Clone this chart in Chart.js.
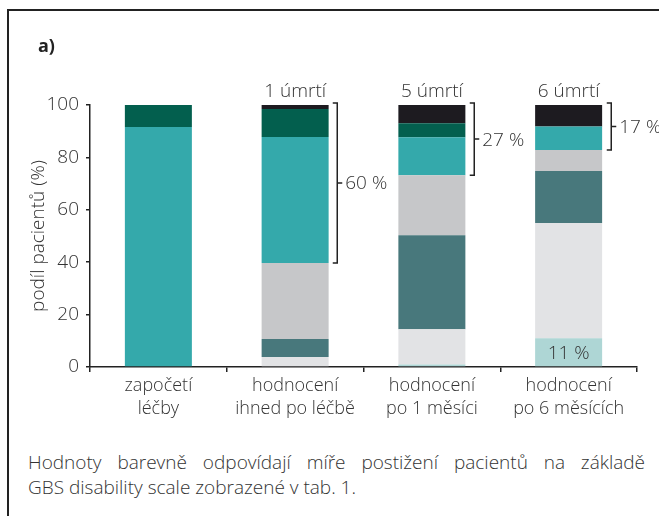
<!DOCTYPE html>
<html><head><meta charset="utf-8">
<script src="https://cdn.jsdelivr.net/npm/chart.js@4"></script>
<style>
html,body{margin:0;padding:0;background:#fff;}
#wrap{position:relative;width:659px;height:516px;overflow:hidden;}
#frame{position:absolute;left:7px;top:9px;width:700px;height:600px;border-top:2px solid #222;border-left:2px solid #222;}
#lbl{position:absolute;left:38px;top:33px;font:bold 18px "Open Sans";color:#222;}
canvas{position:absolute;left:0;top:0;}
#cap{position:absolute;left:28px;top:450px;width:617px;font:300 19px "Open Sans";color:#333;line-height:25px;}
.l1{text-align:justify;text-align-last:justify;white-space:nowrap;}
</style></head>
<body>
<div id="wrap">
<div id="frame"></div>
<canvas id="c" width="659" height="440"></canvas>
<div id="lbl">a)</div>
<div id="cap"><div class="l1">Hodnoty barevně odpovídají míře postižení pacientů na základě</div><div>GBS disability scale zobrazené v tab. 1.</div></div>
</div>
<script>
const categories = [['započetí','léčby'],['hodnocení','ihned po léčbě'],['hodnocení','po 1 měsíci'],['hodnocení','po 6 měsících']];
const grade0 = [0, 0, 1.0, 11.0];
const grade1 = [0, 3.8, 13.4, 44.0];
const grade2 = [0, 6.9, 35.9, 19.8];
const grade3 = [0, 29.0, 22.9, 8.0];
const grade4 = [91.6, 48.1, 14.5, 9.0];
const grade5 = [8.4, 10.7, 5.3, 0];
const grade6 = [0, 1.5, 7.0, 8.2];
const deaths = [null, 1, 5, 6];
const yTicks = [0, 20, 40, 60, 80, 100];

const series = [grade0, grade1, grade2, grade3, grade4, grade5, grade6];
const colors = ['#aed6d5', '#e2e3e5', '#48787c', '#c6c7c9', '#34a9ab', '#035f4e', '#1d1b20'];
const FONT = '"Open Sans", sans-serif';
const TXT = '#333';

const annPlugin = {
  id: 'ann',
  afterDraw(chart) {
    const ctx = chart.ctx, y = chart.scales.y;
    ctx.save();
    ctx.fillStyle = TXT;
    ctx.strokeStyle = '#222';
    ctx.lineWidth = 1.5;
    categories.forEach((c, i) => {
      const bar = chart.getDatasetMeta(0).data[i];
      const cx = bar.x, half = bar.width / 2;
      if (deaths[i] != null) {
        const yTop = y.getPixelForValue(100);
        ctx.font = '300 19px ' + FONT;
        ctx.textAlign = 'center'; ctx.textBaseline = 'alphabetic';
        ctx.fillText(deaths[i] + ' úmrtí', cx, yTop - 8);
        const low = grade0[i] + grade1[i] + grade2[i] + grade3[i];
        const yBot = y.getPixelForValue(low);
        const bx = Math.round(cx + half + 8.5) + 0.25;
        const t = yTop - 2, b = yBot;
        ctx.beginPath();
        ctx.moveTo(bx - 4.5, t); ctx.lineTo(bx, t); ctx.lineTo(bx, b); ctx.lineTo(bx - 4.5, b);
        const ym = (t + b) / 2;
        ctx.moveTo(bx, ym); ctx.lineTo(bx + 5, ym);
        ctx.stroke();
        ctx.textAlign = 'left'; ctx.textBaseline = 'middle';
        ctx.fillText(Math.round(grade4[i] + grade5[i] + grade6[i]) + ' %', bx + 8, ym + 1);
      }
      if (grade0[i] >= 5) {
        const yc = y.getPixelForValue(grade0[i] / 2);
        ctx.font = '300 19px ' + FONT;
        ctx.textAlign = 'center'; ctx.textBaseline = 'middle';
        ctx.fillText(Math.round(grade0[i]) + ' %', cx, yc + 1);
      }
    });
    ctx.restore();
  }
};

new Chart(document.getElementById('c'), {
  type: 'bar',
  data: {
    labels: categories,
    datasets: series.map((s, k) => ({ label: 'stupeň ' + k, data: s, backgroundColor: colors[k], borderWidth: 0 }))
  },
  options: {
    responsive: false, animation: false, devicePixelRatio: 1,
    layout: { padding: { left: 0, right: 22, top: 105, bottom: 0 } },
    plugins: { legend: { display: false }, tooltip: { enabled: false } },
    datasets: { bar: { categoryPercentage: 1, barPercentage: 0.49 } },
    scales: {
      x: {
        stacked: true,
        grid: { display: true, drawOnChartArea: false, drawTicks: true, tickLength: 5, offset: true, color: '#222', lineWidth: 1.5 },
        border: { display: true, color: '#222', width: 1.5 },
        ticks: { color: TXT, font: { family: FONT, size: 18, weight: 300, lineHeight: 1.25 }, padding: 3, maxRotation: 0, autoSkip: false },
        afterFit(s) { s.height = 73; }
      },
      y: {
        stacked: true, min: 0, max: 100,
        afterBuildTicks(s) { s.ticks = yTicks.map(v => ({ value: v })); },
        grid: { display: true, drawOnChartArea: false, drawTicks: true, tickLength: 4, color: '#222', lineWidth: 1.5 },
        border: { display: true, color: '#222', width: 1.5 },
        ticks: { color: TXT, font: { family: FONT, size: 19, weight: 300 }, padding: 7 },
        title: { display: true, text: 'podíl pacientů (%)', color: TXT, font: { family: FONT, size: 19, weight: 300 }, padding: { top: 27, bottom: 0 } },
        afterFit(s) { s.width = 90; }
      }
    }
  },
  plugins: [annPlugin]
});
</script>
</body></html>
